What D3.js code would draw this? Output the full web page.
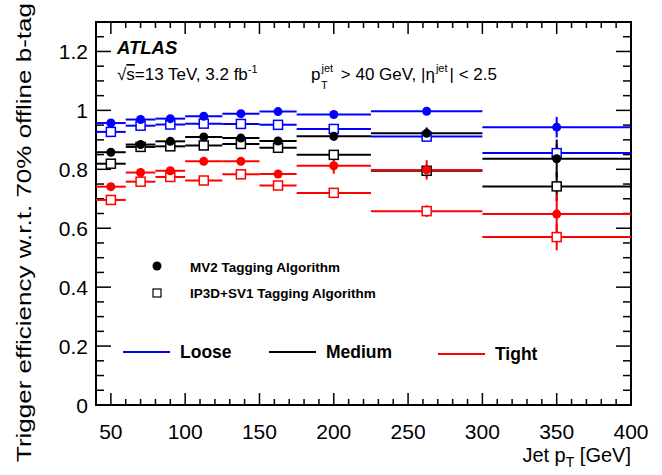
<!DOCTYPE html>
<html>
<head>
<meta charset="utf-8">
<script src="https://cdn.jsdelivr.net/npm/d3@7"></script>
<style>
  body { margin: 0; background: #fff; }
  svg { font-family: "Liberation Sans", Arial, Helvetica, sans-serif; }
</style>
</head>
<body>
<svg id="chart"></svg>
<script>
// bins in jet pT (GeV)
const binEdges = [40, 60, 80, 100, 125, 150, 175, 225, 300, 400];
const binCenters = [50, 70, 90, 112.5, 137.5, 162.5, 200, 262.5, 350];

// efficiencies
const mv2Loose = [0.957, 0.969, 0.972, 0.980, 0.989, 0.996, 0.986, 0.997, 0.943];
const mv2LooseErr = [0.004, 0.004, 0.004, 0.004, 0.004, 0.005, 0.008, 0.01, 0.035];
const ip3dLoose = [0.927, 0.948, 0.952, 0.955, 0.954, 0.951, 0.937, 0.911, 0.855];
const ip3dLooseErr = [0.005, 0.005, 0.005, 0.005, 0.005, 0.006, 0.01, 0.012, 0.03];
const mv2Medium = [0.858, 0.884, 0.895, 0.910, 0.906, 0.896, 0.912, 0.922, 0.836];
const mv2MediumErr = [0.005, 0.005, 0.005, 0.006, 0.006, 0.008, 0.015, 0.02, 0.065];
const ip3dMedium = [0.819, 0.876, 0.878, 0.881, 0.886, 0.873, 0.849, 0.795, 0.742];
const ip3dMediumErr = [0.006, 0.006, 0.006, 0.006, 0.006, 0.008, 0.012, 0.02, 0.05];
const mv2Tight = [0.741, 0.789, 0.795, 0.827, 0.827, 0.784, 0.812, 0.798, 0.648];
const mv2TightErr = [0.006, 0.006, 0.006, 0.007, 0.008, 0.012, 0.027, 0.033, 0.07];
const ip3dTight = [0.696, 0.758, 0.774, 0.762, 0.783, 0.745, 0.720, 0.658, 0.570];
const ip3dTightErr = [0.006, 0.006, 0.006, 0.007, 0.008, 0.01, 0.015, 0.02, 0.045];

const xTicks = [50, 100, 150, 200, 250, 300, 350, 400];
const yTicks = [0, 0.2, 0.4, 0.6, 0.8, 1, 1.2];

const width = 662, height = 475;
const margin = { top: 22, right: 31, bottom: 70, left: 96 };

const svg = d3.select("#chart")
  .attr("width", width)
  .attr("height", height);

const x = d3.scaleLinear().domain([40, 400]).range([margin.left, width - margin.right]);
const y = d3.scaleLinear().domain([0, 1.3]).range([height - margin.bottom, margin.top]);

const x0 = x.range()[0], x1 = x.range()[1];
const y0 = y.range()[0], y1 = y.range()[1];

// ticks (ROOT style: inside, on all four sides)
const ticks = svg.append("g").attr("stroke", "#000").attr("stroke-width", 1.5);
d3.range(40, 401, 10).forEach(v => {
  const major = v % 50 === 0;
  const len = major ? 12 : 6;
  ticks.append("line").attr("x1", x(v)).attr("x2", x(v)).attr("y1", y0).attr("y2", y0 - len);
  ticks.append("line").attr("x1", x(v)).attr("x2", x(v)).attr("y1", y1).attr("y2", y1 + len);
});
d3.range(0, 1.3001, 0.05).forEach(v => {
  const major = Math.abs(v / 0.2 - Math.round(v / 0.2)) < 1e-6;
  const len = major ? 15 : 8;
  ticks.append("line").attr("x1", x0).attr("x2", x0 + len).attr("y1", y(v)).attr("y2", y(v));
  ticks.append("line").attr("x1", x1).attr("x2", x1 - len).attr("y1", y(v)).attr("y2", y(v));
});

svg.append("rect")
  .attr("x", x0).attr("y", y1)
  .attr("width", x1 - x0).attr("height", y0 - y1)
  .attr("fill", "none").attr("stroke", "#000").attr("stroke-width", 2);

// tick labels
svg.append("g").selectAll("text").data(xTicks).join("text")
  .attr("x", d => x(d)).attr("y", y0 + 34)
  .attr("text-anchor", "middle").attr("font-size", 21)
  .text(d => d);
svg.append("g").selectAll("text").data(yTicks).join("text")
  .attr("x", x0 - 8).attr("y", d => y(d) + 7.5)
  .attr("text-anchor", "end").attr("font-size", 21)
  .text(d => d);

// axis titles
const xt = svg.append("text")
  .attr("x", x1).attr("y", 462)
  .attr("text-anchor", "end").attr("font-size", 20);
xt.append("tspan").text("Jet p");
xt.append("tspan").attr("font-size", 14).attr("dy", 5).text("T");
xt.append("tspan").attr("dy", -5).text(" [GeV]");

svg.append("text")
  .attr("transform", `translate(31,3) rotate(-90)`)
  .attr("text-anchor", "end").attr("font-size", 21)
  .attr("textLength", 459).attr("lengthAdjust", "spacingAndGlyphs")
  .text("Trigger efficiency w.r.t. 70% offline b-tag");

// series
const series = [
  { vals: ip3dLoose, err: ip3dLooseErr, color: "#0000ff", filled: false },
  { vals: mv2Loose, err: mv2LooseErr, color: "#0000ff", filled: true },
  { vals: ip3dMedium, err: ip3dMediumErr, color: "#000000", filled: false },
  { vals: mv2Medium, err: mv2MediumErr, color: "#000000", filled: true },
  { vals: ip3dTight, err: ip3dTightErr, color: "#ff0000", filled: false },
  { vals: mv2Tight, err: mv2TightErr, color: "#ff0000", filled: true }
];

const lines = svg.append("g").attr("stroke-width", 2);
series.forEach(s => {
  s.vals.forEach((v, i) => {
    lines.append("line")
      .attr("x1", x(binEdges[i])).attr("x2", x(binEdges[i + 1]))
      .attr("y1", y(v)).attr("y2", y(v))
      .attr("stroke", s.color);
    lines.append("line")
      .attr("x1", x(binCenters[i])).attr("x2", x(binCenters[i]))
      .attr("y1", y(v - s.err[i])).attr("y2", y(v + s.err[i]))
      .attr("stroke", s.color);
  });
});

const markers = svg.append("g");
series.forEach(s => {
  s.vals.forEach((v, i) => {
    if (s.filled) {
      markers.append("circle")
        .attr("cx", x(binCenters[i])).attr("cy", y(v)).attr("r", 4.5)
        .attr("fill", s.color);
    } else {
      markers.append("rect")
        .attr("x", x(binCenters[i]) - 4.5).attr("y", y(v) - 4.5)
        .attr("width", 9).attr("height", 9)
        .attr("fill", "#fff").attr("stroke", s.color).attr("stroke-width", 1.5);
    }
  });
});

// labels
svg.append("text").attr("x", 117).attr("y", 54)
  .attr("font-size", 18.5).attr("font-weight", "bold").attr("font-style", "italic")
  .text("ATLAS");

const lumi = svg.append("text").attr("x", 117).attr("y", 80).attr("font-size", 17);
lumi.append("tspan").text("√");
lumi.append("tspan").attr("text-decoration", "overline").text("s");
lumi.append("tspan").text("=13 TeV, 3.2 fb");
lumi.append("tspan").attr("font-size", 11).attr("dy", -7).text("-1");

const cut = svg.append("text").attr("x", 311).attr("y", 80).attr("font-size", 17);
cut.append("tspan").text("p");
cut.append("tspan").attr("font-size", 11).attr("dy", -8).attr("dx", 1).text("jet");
cut.append("tspan").attr("dy", 8).attr("dx", 3).text(" > 40 GeV, |η");
cut.append("tspan").attr("font-size", 11).attr("dy", -8).attr("dx", 1).text("jet");
cut.append("tspan").attr("dy", 8).attr("dx", 2).text("| < 2.5");
svg.append("text").attr("x", 321).attr("y", 89).attr("font-size", 11).text("T");

// marker legend
svg.append("circle").attr("cx", 157).attr("cy", 266).attr("r", 4.5).attr("fill", "#000");
svg.append("text").attr("x", 190).attr("y", 272).attr("font-size", 13.5).attr("font-weight", "bold")
  .text("MV2 Tagging Algorithm");
svg.append("rect").attr("x", 153).attr("y", 289).attr("width", 8).attr("height", 8)
  .attr("fill", "#fff").attr("stroke", "#000").attr("stroke-width", 1.2);
svg.append("text").attr("x", 190).attr("y", 298).attr("font-size", 13.5).attr("font-weight", "bold")
  .text("IP3D+SV1 Tagging Algorithm");

// line legend
const wpNames = ["Loose", "Medium", "Tight"];
const wpColors = ["#0000ff", "#000000", "#ff0000"];
const wpX = [123, 269, 438];
const wpY = [352, 352, 354];
wpNames.forEach((n, i) => {
  svg.append("line").attr("x1", wpX[i]).attr("x2", wpX[i] + 47)
    .attr("y1", wpY[i]).attr("y2", wpY[i])
    .attr("stroke", wpColors[i]).attr("stroke-width", 2);
  svg.append("text").attr("x", wpX[i] + 57).attr("y", wpY[i] + 6)
    .attr("font-size", 17.5).attr("font-weight", "bold").text(n);
});
</script>
</body>
</html>
